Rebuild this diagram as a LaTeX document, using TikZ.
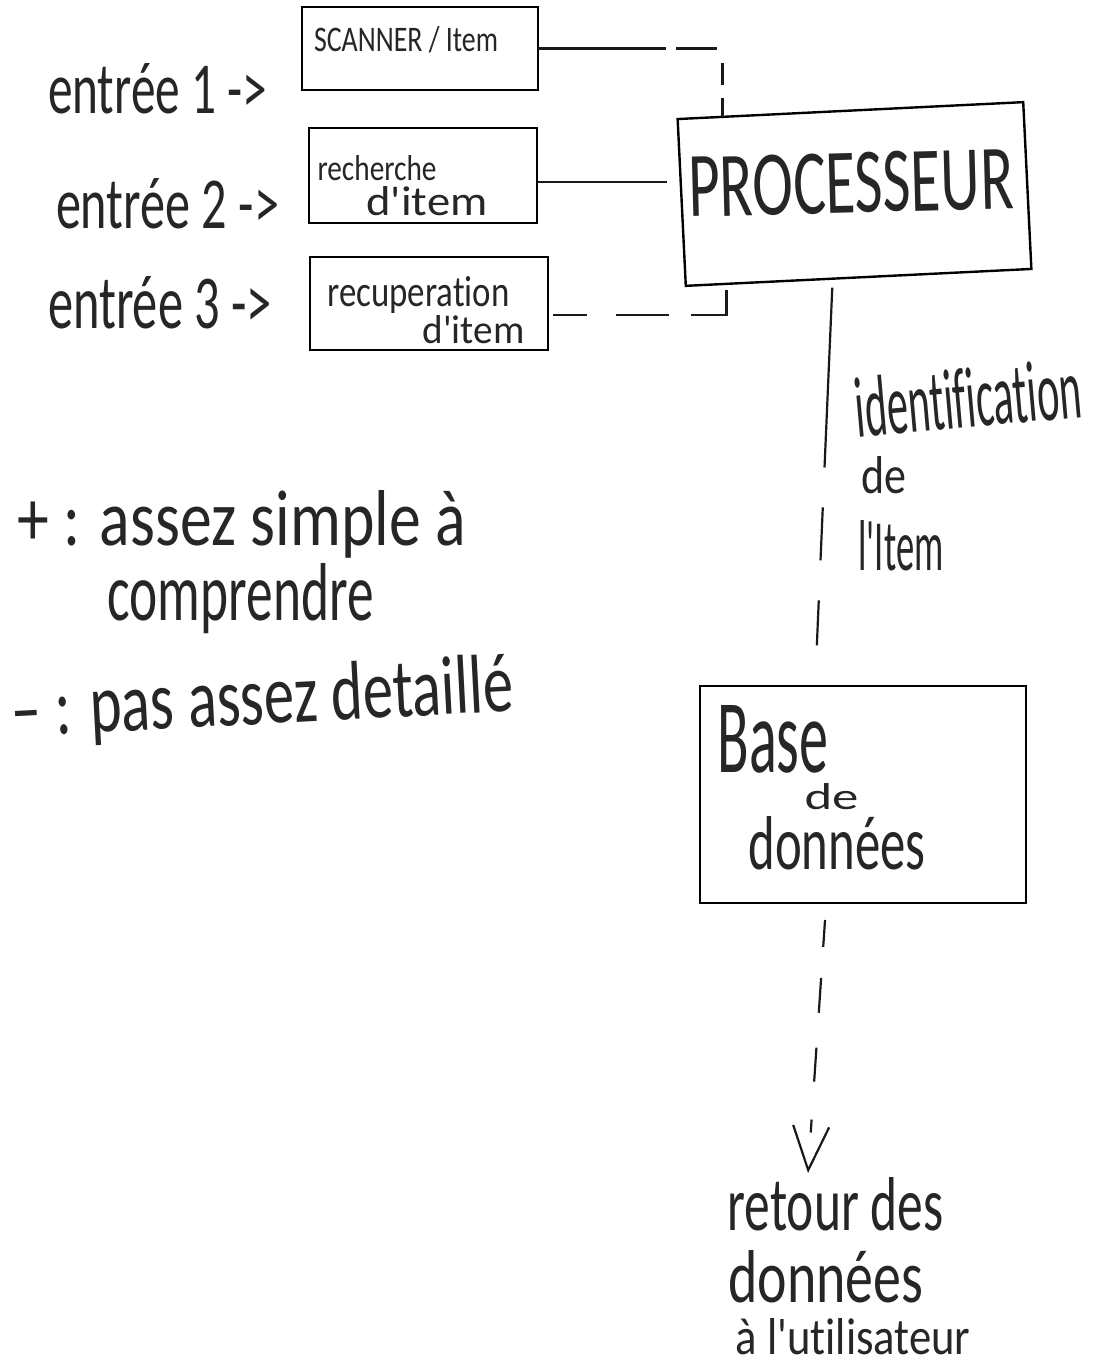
\documentclass[tikz,border=0pt]{standalone}
\usepackage{fontspec}
\setmainfont{Liberation Sans}
\newfontfamily\hand{Carlito}[Ligatures={NoCommon,NoRare}]
\usepackage{graphicx}
\usetikzlibrary{calc,arrows.meta}
\definecolor{ink}{HTML}{262626}
\newcommand\fw[3]{\resizebox{#1pt}{#2pt}{#3}}
% one line of a stacked label: x offset, y offset (downwards), width, height, text
\newcommand\stackln[5]{\makebox[0pt][l]{\hspace*{#1pt}\raisebox{-#2pt}{\fw{#3}{#4}{#5}}}}
\begin{document}
\begin{tikzpicture}[x=1pt,y=-1pt,
  box/.style={draw=black, line width=2.4pt, inner sep=0pt, outer sep=0pt},
  txt/.style={inner sep=0pt, outer sep=0pt, text=ink, anchor=base west, font=\hand},
  link/.style={draw=black!90, line width=2.2pt}]
\fill[white] (0,0) rectangle (1095,1365);

% boxes
\node[box, minimum width=236pt, minimum height=83pt] (b1) at (420,48.5) {};
\node[box, minimum width=228pt, minimum height=95pt] (b2) at (423,175.5) {};
\node[box, minimum width=238pt, minimum height=93pt] (b3) at (429,303.5) {};
\node[box, rotate=2.8, minimum width=346pt, minimum height=167pt] (proc) at (854.5,194) {};
\node[box, minimum width=326pt, minimum height=217pt] (db) at (863,794.5) {};

% box texts
\node[txt] (t1) at (314,52) {\fw{184}{25}{SCANNER / Item}};
\node[txt] (t2) at (317,180) {\stackln{0}{0}{119}{25}{recherche}\stackln{49}{35}{121}{29}{d'item}};
\node[txt] (t4) at (327,306) {\stackln{0}{0}{182}{30}{recuperation}\stackln{95}{37}{102}{28}{d'item}};
\node[txt, anchor=center, rotate=1.5] (tp) at (851,183) {\fw{325}{60}{PROCESSEUR}};
\node[txt] (d1) at (717,772) {\stackln{0}{0}{111}{67}{Base}\stackln{87}{37}{54}{26}{de}\stackln{31}{97}{177}{53}{données}};

% inputs
\node[txt] (e1) at (48,113) {\fw{219}{50}{entrée 1 ->}};
\node[txt] (e2) at (56,228) {\fw{223}{50}{entrée 2 ->}};
\node[txt] (e3) at (48,328) {\fw{224}{52}{entrée 3 ->}};

% label on link
\node[txt] (i1) at (852,437) {\makebox[0pt][l]{\rotatebox{5}{\fw{227}{60}{identification}}}\stackln{9}{56}{45}{37}{de}\stackln{6}{133}{85}{50}{l'Item}};

% output
\node[txt] (r1) at (727,1230) {\stackln{0}{0}{216}{53}{retour des}\stackln{1}{72}{195}{52}{données}\stackln{8}{124}{235}{36}{à l'utilisateur}};

% notes
\node[txt] (n1) at (17,545) {\stackln{0}{0}{448}{55}{+ : assez simple à}\stackln{90}{75}{266}{57}{comprendre}};
\node[txt, rotate=3] (n3) at (13,737) {\fw{502}{58}{– : pas assez detaillé}};

% connection points
\coordinate (pin1) at ($(proc.north west)!0.13!(proc.north east)$);
\coordinate (pin2) at ($(proc.north west)!0.378!(proc.south west)$);
\coordinate (pin3) at ($(proc.south west)!0.118!(proc.south east)$);
\coordinate (pbot) at ($(proc.south west)!0.425!(proc.south east)$);
\coordinate (dtop) at ($(db.north west)!0.353!(db.north east)$);
\coordinate (dbot) at ($(db.south west)!0.387!(db.south east)$);
\coordinate (tip) at (808,1173);

% connectors
\draw[link, dash pattern=on 128pt off 10pt on 41pt off 20pt on 22pt off 13pt on 40pt] (b1.east) -| (pin1);
\draw[link, shorten >=14pt] (b2.east |- pin2) -- (pin2);
\draw[link, dash pattern=on 0pt off 5pt on 34pt off 29pt on 53pt off 22pt on 61pt off 10pt] ([yshift=-11.5pt]b3.east) -| (pin3);
\draw[link, dash pattern=on 0pt off 9pt on 180pt off 40pt on 53pt off 40pt on 45pt off 100pt] (pbot) -- (dtop);
\draw[link, -{Straight Barb[length=44pt,width=36pt]}, dash pattern=on 0pt off 17pt on 27pt off 31pt on 35pt off 35pt on 34pt off 38pt on 13pt off 300pt] (dbot) -- (tip);
\end{tikzpicture}
\end{document}
